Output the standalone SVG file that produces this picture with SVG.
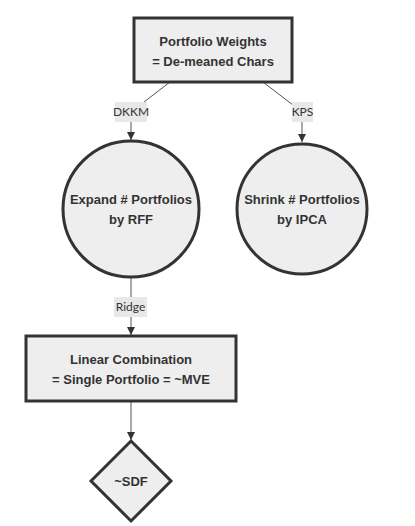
<svg xmlns="http://www.w3.org/2000/svg" width="415" height="526" viewBox="0 0 415 526">
<style>
.node{fill:#eeeeee;stroke:#333333;stroke-width:3}
.nt{font-family:"Liberation Sans",Arial,sans-serif;font-size:13px;font-weight:bold;fill:#333333;text-anchor:middle}
.edge{fill:none;stroke:#555555;stroke-width:1}
.lb{fill:#e8e8e8}
.lt{font-family:Lato,"Liberation Sans",sans-serif;font-size:12px;fill:#333333;text-anchor:middle}
</style>
<defs>
<marker id="arr" viewBox="0 0 10 10" refX="10" refY="5" markerWidth="8" markerHeight="8" markerUnits="userSpaceOnUse" orient="auto">
<path d="M0,0 L10,5 L0,10 z" fill="#333333"/>
</marker>
</defs>
<rect width="415" height="526" fill="#ffffff"/>
<g id="connectors">
<path class="edge" d="M170,82 L131,112 L131,140" marker-end="url(#arr)"/>
<path class="edge" d="M263,82 L302,112 L302,142" marker-end="url(#arr)"/>
<path class="edge" d="M131,277 L131,335" marker-end="url(#arr)"/>
<path class="edge" d="M131,401 L131,440" marker-end="url(#arr)"/>
<rect class="lb" x="115" y="102" width="32" height="20"/>
<text class="lt" x="131" y="116">DKKM</text>
<rect class="lb" x="292" y="102" width="21" height="20"/>
<text class="lt" x="302.5" y="116">KPS</text>
<rect class="lb" x="114" y="297" width="33" height="20"/>
<text class="lt" x="130.5" y="311">Ridge</text>
</g>
<g id="weights">
<rect class="node" x="134" y="18" width="158" height="64"/>
<text class="nt" x="213" y="46">Portfolio Weights</text>
<text class="nt" x="213" y="66">= De-meaned Chars</text>
</g>
<g id="expand">
<circle class="node" cx="131" cy="209" r="68"/>
<text class="nt" x="131" y="204">Expand # Portfolios</text>
<text class="nt" x="131" y="224">by RFF</text>
</g>
<g id="shrink">
<circle class="node" cx="302" cy="209" r="65"/>
<text class="nt" x="302" y="204">Shrink # Portfolios</text>
<text class="nt" x="302" y="224">by IPCA</text>
</g>
<g id="linear">
<rect class="node" x="26" y="336" width="210" height="65"/>
<text class="nt" x="131" y="364">Linear Combination</text>
<text class="nt" x="131" y="384">= Single Portfolio = ~MVE</text>
</g>
<g id="sdf">
<polygon class="node" points="131,441 171,481 131,521 91,481"/>
<text class="nt" x="131" y="486">~SDF</text>
</g>
</svg>
